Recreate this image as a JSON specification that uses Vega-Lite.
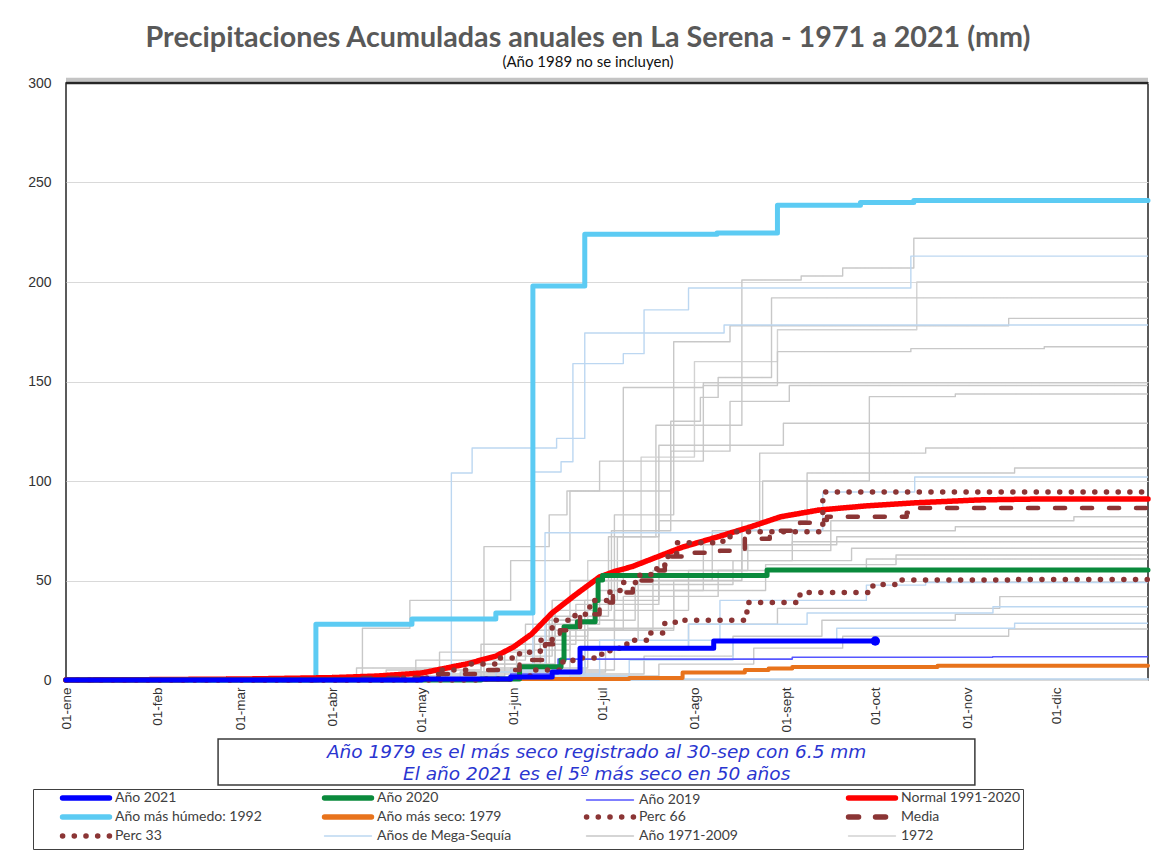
{
  "$schema": "https://vega.github.io/schema/vega-lite/v6.json",
  "width": 1082,
  "height": 597,
  "autosize": "none",
  "padding": {"left": 66, "top": 83, "right": 20, "bottom": 170},
  "background": "white",
  "title": {
    "text": "Precipitaciones Acumuladas anuales en La Serena - 1971 a 2021 (mm)",
    "subtitle": "(Año 1989 no se incluyen)",
    "font": "Lato",
    "fontSize": 28.7,
    "fontWeight": "bold",
    "color": "#595959",
    "subtitleFont": "Lato",
    "subtitleFontSize": 15,
    "subtitleColor": "#111111",
    "subtitlePadding": 2,
    "anchor": "middle",
    "dx": -19,
    "offset": 6
  },
  "datasets": {
    "lineas": [
      {"serie": "Año 2021", "linea": "2021", "dia": 0, "mm": 0},
      {"serie": "Año 2021", "linea": "2021", "dia": 120, "mm": 0.5},
      {"serie": "Año 2021", "linea": "2021", "dia": 150, "mm": 1.5},
      {"serie": "Año 2021", "linea": "2021", "dia": 164, "mm": 4},
      {"serie": "Año 2021", "linea": "2021", "dia": 173.4, "mm": 16},
      {"serie": "Año 2021", "linea": "2021", "dia": 218.5, "mm": 19.6},
      {"serie": "Año 2021", "linea": "2021", "dia": 273, "mm": 19.6},

      {"serie": "Año 2020", "linea": "2020", "dia": 0, "mm": 0},
      {"serie": "Año 2020", "linea": "2020", "dia": 140, "mm": 0.5},
      {"serie": "Año 2020", "linea": "2020", "dia": 153, "mm": 6.7},
      {"serie": "Año 2020", "linea": "2020", "dia": 167, "mm": 10},
      {"serie": "Año 2020", "linea": "2020", "dia": 168, "mm": 26.8},
      {"serie": "Año 2020", "linea": "2020", "dia": 172.5, "mm": 29.3},
      {"serie": "Año 2020", "linea": "2020", "dia": 178.5, "mm": 40},
      {"serie": "Año 2020", "linea": "2020", "dia": 179.5, "mm": 50.2},
      {"serie": "Año 2020", "linea": "2020", "dia": 181, "mm": 52.5},
      {"serie": "Año 2020", "linea": "2020", "dia": 236.5, "mm": 55.3},
      {"serie": "Año 2020", "linea": "2020", "dia": 365, "mm": 55.3},

      {"serie": "Año 2019", "linea": "2019", "dia": 0, "mm": 0},
      {"serie": "Año 2019", "linea": "2019", "dia": 140, "mm": 1},
      {"serie": "Año 2019", "linea": "2019", "dia": 150, "mm": 3},
      {"serie": "Año 2019", "linea": "2019", "dia": 166, "mm": 10.5},
      {"serie": "Año 2019", "linea": "2019", "dia": 245, "mm": 11.4},
      {"serie": "Año 2019", "linea": "2019", "dia": 312.6, "mm": 11.7},
      {"serie": "Año 2019", "linea": "2019", "dia": 365, "mm": 11.7},

      {"serie": "Normal 1991-2020", "linea": "normal", "dia": 0, "mm": 0},
      {"serie": "Normal 1991-2020", "linea": "normal", "dia": 30, "mm": 0.2},
      {"serie": "Normal 1991-2020", "linea": "normal", "dia": 60, "mm": 0.5},
      {"serie": "Normal 1991-2020", "linea": "normal", "dia": 90, "mm": 1.2},
      {"serie": "Normal 1991-2020", "linea": "normal", "dia": 105, "mm": 2},
      {"serie": "Normal 1991-2020", "linea": "normal", "dia": 120, "mm": 3.5},
      {"serie": "Normal 1991-2020", "linea": "normal", "dia": 135, "mm": 8},
      {"serie": "Normal 1991-2020", "linea": "normal", "dia": 145, "mm": 12},
      {"serie": "Normal 1991-2020", "linea": "normal", "dia": 151, "mm": 16.6},
      {"serie": "Normal 1991-2020", "linea": "normal", "dia": 157, "mm": 23},
      {"serie": "Normal 1991-2020", "linea": "normal", "dia": 164, "mm": 33.7},
      {"serie": "Normal 1991-2020", "linea": "normal", "dia": 172, "mm": 43},
      {"serie": "Normal 1991-2020", "linea": "normal", "dia": 180, "mm": 51.8},
      {"serie": "Normal 1991-2020", "linea": "normal", "dia": 185, "mm": 54.5},
      {"serie": "Normal 1991-2020", "linea": "normal", "dia": 191, "mm": 57},
      {"serie": "Normal 1991-2020", "linea": "normal", "dia": 208, "mm": 66.8},
      {"serie": "Normal 1991-2020", "linea": "normal", "dia": 220, "mm": 72},
      {"serie": "Normal 1991-2020", "linea": "normal", "dia": 231, "mm": 77},
      {"serie": "Normal 1991-2020", "linea": "normal", "dia": 241, "mm": 82},
      {"serie": "Normal 1991-2020", "linea": "normal", "dia": 254, "mm": 85.4},
      {"serie": "Normal 1991-2020", "linea": "normal", "dia": 270, "mm": 87.5},
      {"serie": "Normal 1991-2020", "linea": "normal", "dia": 286, "mm": 89},
      {"serie": "Normal 1991-2020", "linea": "normal", "dia": 308, "mm": 90.5},
      {"serie": "Normal 1991-2020", "linea": "normal", "dia": 330, "mm": 91},
      {"serie": "Normal 1991-2020", "linea": "normal", "dia": 365, "mm": 91},

      {"serie": "Año más húmedo:  1992", "linea": "1992", "dia": 0, "mm": 0},
      {"serie": "Año más húmedo:  1992", "linea": "1992", "dia": 84.3, "mm": 28},
      {"serie": "Año más húmedo:  1992", "linea": "1992", "dia": 116.7, "mm": 30.6},
      {"serie": "Año más húmedo:  1992", "linea": "1992", "dia": 145, "mm": 33.7},
      {"serie": "Año más húmedo:  1992", "linea": "1992", "dia": 157.5, "mm": 198},
      {"serie": "Año más húmedo:  1992", "linea": "1992", "dia": 175, "mm": 224},
      {"serie": "Año más húmedo:  1992", "linea": "1992", "dia": 219.6, "mm": 224.6},
      {"serie": "Año más húmedo:  1992", "linea": "1992", "dia": 240, "mm": 238.6},
      {"serie": "Año más húmedo:  1992", "linea": "1992", "dia": 268, "mm": 240},
      {"serie": "Año más húmedo:  1992", "linea": "1992", "dia": 286, "mm": 241},
      {"serie": "Año más húmedo:  1992", "linea": "1992", "dia": 365, "mm": 241},

      {"serie": "Año más seco: 1979", "linea": "1979", "dia": 0, "mm": 0},
      {"serie": "Año más seco: 1979", "linea": "1979", "dia": 150, "mm": 0.5},
      {"serie": "Año más seco: 1979", "linea": "1979", "dia": 190, "mm": 1},
      {"serie": "Año más seco: 1979", "linea": "1979", "dia": 208, "mm": 3.8},
      {"serie": "Año más seco: 1979", "linea": "1979", "dia": 229, "mm": 5},
      {"serie": "Año más seco: 1979", "linea": "1979", "dia": 237, "mm": 5.8},
      {"serie": "Año más seco: 1979", "linea": "1979", "dia": 245, "mm": 6.5},
      {"serie": "Año más seco: 1979", "linea": "1979", "dia": 294, "mm": 7.2},
      {"serie": "Año más seco: 1979", "linea": "1979", "dia": 365, "mm": 7.2},

      {"serie": "Perc 66", "linea": "p66", "dia": 0, "mm": 0},
      {"serie": "Perc 66", "linea": "p66", "dia": 110, "mm": 1},
      {"serie": "Perc 66", "linea": "p66", "dia": 126, "mm": 5},
      {"serie": "Perc 66", "linea": "p66", "dia": 136, "mm": 8},
      {"serie": "Perc 66", "linea": "p66", "dia": 146, "mm": 11},
      {"serie": "Perc 66", "linea": "p66", "dia": 153, "mm": 14},
      {"serie": "Perc 66", "linea": "p66", "dia": 160, "mm": 20},
      {"serie": "Perc 66", "linea": "p66", "dia": 164, "mm": 30},
      {"serie": "Perc 66", "linea": "p66", "dia": 171.7, "mm": 33},
      {"serie": "Perc 66", "linea": "p66", "dia": 176.7, "mm": 40},
      {"serie": "Perc 66", "linea": "p66", "dia": 183.5, "mm": 45},
      {"serie": "Perc 66", "linea": "p66", "dia": 188, "mm": 49},
      {"serie": "Perc 66", "linea": "p66", "dia": 193.6, "mm": 53},
      {"serie": "Perc 66", "linea": "p66", "dia": 199.3, "mm": 57},
      {"serie": "Perc 66", "linea": "p66", "dia": 202, "mm": 62},
      {"serie": "Perc 66", "linea": "p66", "dia": 206, "mm": 69},
      {"serie": "Perc 66", "linea": "p66", "dia": 221.6, "mm": 70},
      {"serie": "Perc 66", "linea": "p66", "dia": 224, "mm": 74.5},
      {"serie": "Perc 66", "linea": "p66", "dia": 255.3, "mm": 94.5},
      {"serie": "Perc 66", "linea": "p66", "dia": 365, "mm": 95},

      {"serie": "Media", "linea": "media", "dia": 0, "mm": 0},
      {"serie": "Media", "linea": "media", "dia": 100, "mm": 1},
      {"serie": "Media", "linea": "media", "dia": 125, "mm": 3},
      {"serie": "Media", "linea": "media", "dia": 139.6, "mm": 5},
      {"serie": "Media", "linea": "media", "dia": 153, "mm": 10},
      {"serie": "Media", "linea": "media", "dia": 161.6, "mm": 18},
      {"serie": "Media", "linea": "media", "dia": 166.6, "mm": 25},
      {"serie": "Media", "linea": "media", "dia": 173.4, "mm": 33},
      {"serie": "Media", "linea": "media", "dia": 180, "mm": 39},
      {"serie": "Media", "linea": "media", "dia": 184.5, "mm": 44},
      {"serie": "Media", "linea": "media", "dia": 191.2, "mm": 50},
      {"serie": "Media", "linea": "media", "dia": 199.3, "mm": 55},
      {"serie": "Media", "linea": "media", "dia": 202, "mm": 62},
      {"serie": "Media", "linea": "media", "dia": 210.5, "mm": 64},
      {"serie": "Media", "linea": "media", "dia": 220.6, "mm": 65},
      {"serie": "Media", "linea": "media", "dia": 229, "mm": 71},
      {"serie": "Media", "linea": "media", "dia": 237.4, "mm": 75},
      {"serie": "Media", "linea": "media", "dia": 247.6, "mm": 79},
      {"serie": "Media", "linea": "media", "dia": 253.3, "mm": 80.4},
      {"serie": "Media", "linea": "media", "dia": 256.7, "mm": 82},
      {"serie": "Media", "linea": "media", "dia": 283.6, "mm": 84},
      {"serie": "Media", "linea": "media", "dia": 287, "mm": 86.4},
      {"serie": "Media", "linea": "media", "dia": 365, "mm": 86.4},

      {"serie": "Perc 33", "linea": "p33", "dia": 0, "mm": 0},
      {"serie": "Perc 33", "linea": "p33", "dia": 140, "mm": 0.5},
      {"serie": "Perc 33", "linea": "p33", "dia": 153, "mm": 2},
      {"serie": "Perc 33", "linea": "p33", "dia": 158, "mm": 5},
      {"serie": "Perc 33", "linea": "p33", "dia": 166.6, "mm": 9},
      {"serie": "Perc 33", "linea": "p33", "dia": 171, "mm": 11},
      {"serie": "Perc 33", "linea": "p33", "dia": 178.4, "mm": 13},
      {"serie": "Perc 33", "linea": "p33", "dia": 183.5, "mm": 16},
      {"serie": "Perc 33", "linea": "p33", "dia": 189.2, "mm": 20},
      {"serie": "Perc 33", "linea": "p33", "dia": 197, "mm": 23.6},
      {"serie": "Perc 33", "linea": "p33", "dia": 202, "mm": 29},
      {"serie": "Perc 33", "linea": "p33", "dia": 208.8, "mm": 30},
      {"serie": "Perc 33", "linea": "p33", "dia": 229.7, "mm": 39},
      {"serie": "Perc 33", "linea": "p33", "dia": 247.6, "mm": 44},
      {"serie": "Perc 33", "linea": "p33", "dia": 272.2, "mm": 48},
      {"serie": "Perc 33", "linea": "p33", "dia": 281.3, "mm": 50.2},
      {"serie": "Perc 33", "linea": "p33", "dia": 320, "mm": 50.5},
      {"serie": "Perc 33", "linea": "p33", "dia": 365, "mm": 50.5},

      {"serie": "Años de Mega-Sequía", "linea": "m1", "dia": 0, "mm": 0},
      {"serie": "Años de Mega-Sequía", "linea": "m1", "dia": 150, "mm": 3},
      {"serie": "Años de Mega-Sequía", "linea": "m1", "dia": 157.5, "mm": 104.5},
      {"serie": "Años de Mega-Sequía", "linea": "m1", "dia": 167, "mm": 109.7},
      {"serie": "Años de Mega-Sequía", "linea": "m1", "dia": 171, "mm": 159},
      {"serie": "Años de Mega-Sequía", "linea": "m1", "dia": 188, "mm": 164},
      {"serie": "Años de Mega-Sequía", "linea": "m1", "dia": 195, "mm": 186},
      {"serie": "Años de Mega-Sequía", "linea": "m1", "dia": 210, "mm": 197},
      {"serie": "Años de Mega-Sequía", "linea": "m1", "dia": 285, "mm": 213},
      {"serie": "Años de Mega-Sequía", "linea": "m1", "dia": 365, "mm": 213},
      {"serie": "Años de Mega-Sequía", "linea": "m2", "dia": 0, "mm": 0},
      {"serie": "Años de Mega-Sequía", "linea": "m2", "dia": 130, "mm": 104},
      {"serie": "Años de Mega-Sequía", "linea": "m2", "dia": 137, "mm": 116.6},
      {"serie": "Años de Mega-Sequía", "linea": "m2", "dia": 165.5, "mm": 121.4},
      {"serie": "Años de Mega-Sequía", "linea": "m2", "dia": 175, "mm": 174.4},
      {"serie": "Años de Mega-Sequía", "linea": "m2", "dia": 222, "mm": 178.4},
      {"serie": "Años de Mega-Sequía", "linea": "m2", "dia": 365, "mm": 178.4},
      {"serie": "Años de Mega-Sequía", "linea": "m3", "dia": 0, "mm": 0},
      {"serie": "Años de Mega-Sequía", "linea": "m3", "dia": 150, "mm": 5},
      {"serie": "Años de Mega-Sequía", "linea": "m3", "dia": 161.6, "mm": 74},
      {"serie": "Años de Mega-Sequía", "linea": "m3", "dia": 228, "mm": 75.4},
      {"serie": "Años de Mega-Sequía", "linea": "m3", "dia": 255.3, "mm": 94.5},
      {"serie": "Años de Mega-Sequía", "linea": "m3", "dia": 286.3, "mm": 102},
      {"serie": "Años de Mega-Sequía", "linea": "m3", "dia": 365, "mm": 102},
      {"serie": "Años de Mega-Sequía", "linea": "m4", "dia": 0, "mm": 0},
      {"serie": "Años de Mega-Sequía", "linea": "m4", "dia": 160, "mm": 3},
      {"serie": "Años de Mega-Sequía", "linea": "m4", "dia": 180, "mm": 20},
      {"serie": "Años de Mega-Sequía", "linea": "m4", "dia": 220.6, "mm": 40},
      {"serie": "Años de Mega-Sequía", "linea": "m4", "dia": 270, "mm": 47.7},
      {"serie": "Años de Mega-Sequía", "linea": "m4", "dia": 290, "mm": 49},
      {"serie": "Años de Mega-Sequía", "linea": "m4", "dia": 365, "mm": 49},
      {"serie": "Años de Mega-Sequía", "linea": "m5", "dia": 0, "mm": 0},
      {"serie": "Años de Mega-Sequía", "linea": "m5", "dia": 145, "mm": 4},
      {"serie": "Años de Mega-Sequía", "linea": "m5", "dia": 175, "mm": 15},
      {"serie": "Años de Mega-Sequía", "linea": "m5", "dia": 210, "mm": 28},
      {"serie": "Años de Mega-Sequía", "linea": "m5", "dia": 250, "mm": 33.7},
      {"serie": "Años de Mega-Sequía", "linea": "m5", "dia": 312.7, "mm": 36.8},
      {"serie": "Años de Mega-Sequía", "linea": "m5", "dia": 365, "mm": 36.8},
      {"serie": "Años de Mega-Sequía", "linea": "m6", "dia": 0, "mm": 0},
      {"serie": "Años de Mega-Sequía", "linea": "m6", "dia": 160, "mm": 2},
      {"serie": "Años de Mega-Sequía", "linea": "m6", "dia": 190, "mm": 10},
      {"serie": "Años de Mega-Sequía", "linea": "m6", "dia": 225, "mm": 20},
      {"serie": "Años de Mega-Sequía", "linea": "m6", "dia": 260, "mm": 26},
      {"serie": "Años de Mega-Sequía", "linea": "m6", "dia": 320, "mm": 28.5},
      {"serie": "Años de Mega-Sequía", "linea": "m6", "dia": 365, "mm": 28.5},
      {"serie": "Años de Mega-Sequía", "linea": "m7", "dia": 0, "mm": 0},
      {"serie": "Años de Mega-Sequía", "linea": "m7", "dia": 200, "mm": 0.5},
      {"serie": "Años de Mega-Sequía", "linea": "m7", "dia": 365, "mm": 1},

      {"serie": "Año 1971-2009", "linea": "g01", "dia": 0, "mm": 0},
      {"serie": "Año 1971-2009", "linea": "g01", "dia": 128, "mm": 3},
      {"serie": "Año 1971-2009", "linea": "g01", "dia": 152, "mm": 12},
      {"serie": "Año 1971-2009", "linea": "g01", "dia": 164, "mm": 40},
      {"serie": "Año 1971-2009", "linea": "g01", "dia": 186, "mm": 72},
      {"serie": "Año 1971-2009", "linea": "g01", "dia": 199, "mm": 128},
      {"serie": "Año 1971-2009", "linea": "g01", "dia": 228, "mm": 201},
      {"serie": "Año 1971-2009", "linea": "g01", "dia": 248, "mm": 203},
      {"serie": "Año 1971-2009", "linea": "g01", "dia": 262, "mm": 207},
      {"serie": "Año 1971-2009", "linea": "g01", "dia": 286, "mm": 222},
      {"serie": "Año 1971-2009", "linea": "g01", "dia": 365, "mm": 222},
      {"serie": "1972", "linea": "g02", "dia": 0, "mm": 0},
      {"serie": "1972", "linea": "g02", "dia": 138, "mm": 4},
      {"serie": "1972", "linea": "g02", "dia": 158, "mm": 22},
      {"serie": "1972", "linea": "g02", "dia": 176, "mm": 60},
      {"serie": "1972", "linea": "g02", "dia": 194, "mm": 112},
      {"serie": "1972", "linea": "g02", "dia": 212, "mm": 160},
      {"serie": "1972", "linea": "g02", "dia": 240, "mm": 176},
      {"serie": "1972", "linea": "g02", "dia": 287, "mm": 200},
      {"serie": "1972", "linea": "g02", "dia": 365, "mm": 200},
      {"serie": "Año 1971-2009", "linea": "g03", "dia": 0, "mm": 0},
      {"serie": "Año 1971-2009", "linea": "g03", "dia": 122, "mm": 2},
      {"serie": "Año 1971-2009", "linea": "g03", "dia": 148, "mm": 15},
      {"serie": "Año 1971-2009", "linea": "g03", "dia": 170, "mm": 50},
      {"serie": "Año 1971-2009", "linea": "g03", "dia": 188, "mm": 95},
      {"serie": "Año 1971-2009", "linea": "g03", "dia": 204, "mm": 130},
      {"serie": "Año 1971-2009", "linea": "g03", "dia": 214, "mm": 142},
      {"serie": "Año 1971-2009", "linea": "g03", "dia": 220, "mm": 152},
      {"serie": "Año 1971-2009", "linea": "g03", "dia": 238, "mm": 192},
      {"serie": "Año 1971-2009", "linea": "g03", "dia": 365, "mm": 192},
      {"serie": "Año 1971-2009", "linea": "g04", "dia": 0, "mm": 0},
      {"serie": "Año 1971-2009", "linea": "g04", "dia": 133, "mm": 4},
      {"serie": "Año 1971-2009", "linea": "g04", "dia": 162, "mm": 30},
      {"serie": "Año 1971-2009", "linea": "g04", "dia": 185, "mm": 83},
      {"serie": "Año 1971-2009", "linea": "g04", "dia": 205, "mm": 170},
      {"serie": "Año 1971-2009", "linea": "g04", "dia": 224, "mm": 178},
      {"serie": "Año 1971-2009", "linea": "g04", "dia": 318, "mm": 181.7},
      {"serie": "Año 1971-2009", "linea": "g04", "dia": 365, "mm": 181.7},
      {"serie": "Año 1971-2009", "linea": "g05", "dia": 0, "mm": 0},
      {"serie": "Año 1971-2009", "linea": "g05", "dia": 145, "mm": 5},
      {"serie": "Año 1971-2009", "linea": "g05", "dia": 163, "mm": 32},
      {"serie": "Año 1971-2009", "linea": "g05", "dia": 183, "mm": 72},
      {"serie": "Año 1971-2009", "linea": "g05", "dia": 200, "mm": 110},
      {"serie": "Año 1971-2009", "linea": "g05", "dia": 215, "mm": 148},
      {"serie": "Año 1971-2009", "linea": "g05", "dia": 240, "mm": 165},
      {"serie": "Año 1971-2009", "linea": "g05", "dia": 285, "mm": 166.5},
      {"serie": "Año 1971-2009", "linea": "g05", "dia": 330, "mm": 167.5},
      {"serie": "Año 1971-2009", "linea": "g05", "dia": 365, "mm": 167.5},
      {"serie": "Año 1971-2009", "linea": "g06", "dia": 0, "mm": 0},
      {"serie": "Año 1971-2009", "linea": "g06", "dia": 100, "mm": 26},
      {"serie": "Año 1971-2009", "linea": "g06", "dia": 116, "mm": 40},
      {"serie": "Año 1971-2009", "linea": "g06", "dia": 150, "mm": 60},
      {"serie": "Año 1971-2009", "linea": "g06", "dia": 170, "mm": 95},
      {"serie": "Año 1971-2009", "linea": "g06", "dia": 188, "mm": 147},
      {"serie": "Año 1971-2009", "linea": "g06", "dia": 215, "mm": 149.4},
      {"serie": "Año 1971-2009", "linea": "g06", "dia": 365, "mm": 149.4},
      {"serie": "Año 1971-2009", "linea": "g07", "dia": 0, "mm": 0},
      {"serie": "Año 1971-2009", "linea": "g07", "dia": 140, "mm": 8},
      {"serie": "Año 1971-2009", "linea": "g07", "dia": 165, "mm": 35},
      {"serie": "Año 1971-2009", "linea": "g07", "dia": 184, "mm": 75},
      {"serie": "Año 1971-2009", "linea": "g07", "dia": 204, "mm": 115},
      {"serie": "Año 1971-2009", "linea": "g07", "dia": 224, "mm": 140},
      {"serie": "Año 1971-2009", "linea": "g07", "dia": 244, "mm": 148},
      {"serie": "Año 1971-2009", "linea": "g07", "dia": 365, "mm": 148},
      {"serie": "Año 1971-2009", "linea": "g08", "dia": 0, "mm": 0},
      {"serie": "Año 1971-2009", "linea": "g08", "dia": 150, "mm": 3},
      {"serie": "Año 1971-2009", "linea": "g08", "dia": 175, "mm": 40},
      {"serie": "Año 1971-2009", "linea": "g08", "dia": 200, "mm": 80},
      {"serie": "Año 1971-2009", "linea": "g08", "dia": 235, "mm": 100},
      {"serie": "Año 1971-2009", "linea": "g08", "dia": 271, "mm": 142.4},
      {"serie": "Año 1971-2009", "linea": "g08", "dia": 300, "mm": 143.7},
      {"serie": "Año 1971-2009", "linea": "g08", "dia": 365, "mm": 143.7},
      {"serie": "Año 1971-2009", "linea": "g09", "dia": 0, "mm": 0},
      {"serie": "Año 1971-2009", "linea": "g09", "dia": 141, "mm": 67},
      {"serie": "Año 1971-2009", "linea": "g09", "dia": 163, "mm": 83},
      {"serie": "Año 1971-2009", "linea": "g09", "dia": 169, "mm": 95},
      {"serie": "Año 1971-2009", "linea": "g09", "dia": 180, "mm": 110},
      {"serie": "Año 1971-2009", "linea": "g09", "dia": 200, "mm": 118},
      {"serie": "Año 1971-2009", "linea": "g09", "dia": 242, "mm": 129},
      {"serie": "Año 1971-2009", "linea": "g09", "dia": 365, "mm": 129},
      {"serie": "Año 1971-2009", "linea": "g10", "dia": 0, "mm": 0},
      {"serie": "Año 1971-2009", "linea": "g10", "dia": 145, "mm": 6},
      {"serie": "Año 1971-2009", "linea": "g10", "dia": 160, "mm": 20},
      {"serie": "Año 1971-2009", "linea": "g10", "dia": 193, "mm": 50},
      {"serie": "Año 1971-2009", "linea": "g10", "dia": 218, "mm": 75},
      {"serie": "Año 1971-2009", "linea": "g10", "dia": 234, "mm": 114},
      {"serie": "Año 1971-2009", "linea": "g10", "dia": 290, "mm": 116.6},
      {"serie": "Año 1971-2009", "linea": "g10", "dia": 365, "mm": 116.6},
      {"serie": "Año 1971-2009", "linea": "g11", "dia": 0, "mm": 0},
      {"serie": "Año 1971-2009", "linea": "g11", "dia": 137, "mm": 4},
      {"serie": "Año 1971-2009", "linea": "g11", "dia": 170, "mm": 25},
      {"serie": "Año 1971-2009", "linea": "g11", "dia": 198, "mm": 55},
      {"serie": "Año 1971-2009", "linea": "g11", "dia": 228, "mm": 80},
      {"serie": "Año 1971-2009", "linea": "g11", "dia": 250, "mm": 104},
      {"serie": "Año 1971-2009", "linea": "g11", "dia": 320, "mm": 106.5},
      {"serie": "Año 1971-2009", "linea": "g11", "dia": 365, "mm": 106.5},
      {"serie": "Año 1971-2009", "linea": "g12", "dia": 0, "mm": 0},
      {"serie": "Año 1971-2009", "linea": "g12", "dia": 150, "mm": 3},
      {"serie": "Año 1971-2009", "linea": "g12", "dia": 175, "mm": 25},
      {"serie": "Año 1971-2009", "linea": "g12", "dia": 205, "mm": 50},
      {"serie": "Año 1971-2009", "linea": "g12", "dia": 228, "mm": 65},
      {"serie": "Año 1971-2009", "linea": "g12", "dia": 258, "mm": 80},
      {"serie": "Año 1971-2009", "linea": "g12", "dia": 340, "mm": 82},
      {"serie": "Año 1971-2009", "linea": "g12", "dia": 365, "mm": 82},
      {"serie": "Año 1971-2009", "linea": "g13", "dia": 0, "mm": 0},
      {"serie": "Año 1971-2009", "linea": "g13", "dia": 118, "mm": 10},
      {"serie": "Año 1971-2009", "linea": "g13", "dia": 155, "mm": 28},
      {"serie": "Año 1971-2009", "linea": "g13", "dia": 180, "mm": 45},
      {"serie": "Año 1971-2009", "linea": "g13", "dia": 215, "mm": 68},
      {"serie": "Año 1971-2009", "linea": "g13", "dia": 245, "mm": 75},
      {"serie": "Año 1971-2009", "linea": "g13", "dia": 300, "mm": 77},
      {"serie": "Año 1971-2009", "linea": "g13", "dia": 365, "mm": 77},
      {"serie": "Año 1971-2009", "linea": "g14", "dia": 0, "mm": 0},
      {"serie": "Año 1971-2009", "linea": "g14", "dia": 160, "mm": 5},
      {"serie": "Año 1971-2009", "linea": "g14", "dia": 185, "mm": 35},
      {"serie": "Año 1971-2009", "linea": "g14", "dia": 210, "mm": 55},
      {"serie": "Año 1971-2009", "linea": "g14", "dia": 230, "mm": 68},
      {"serie": "Año 1971-2009", "linea": "g14", "dia": 260, "mm": 72},
      {"serie": "Año 1971-2009", "linea": "g14", "dia": 365, "mm": 72},
      {"serie": "Año 1971-2009", "linea": "g15", "dia": 0, "mm": 0},
      {"serie": "Año 1971-2009", "linea": "g15", "dia": 108, "mm": 5},
      {"serie": "Año 1971-2009", "linea": "g15", "dia": 140, "mm": 18},
      {"serie": "Año 1971-2009", "linea": "g15", "dia": 172, "mm": 38},
      {"serie": "Año 1971-2009", "linea": "g15", "dia": 200, "mm": 60},
      {"serie": "Año 1971-2009", "linea": "g15", "dia": 245, "mm": 69.5},
      {"serie": "Año 1971-2009", "linea": "g15", "dia": 365, "mm": 69.5},
      {"serie": "Año 1971-2009", "linea": "g16", "dia": 0, "mm": 0},
      {"serie": "Año 1971-2009", "linea": "g16", "dia": 130, "mm": 8},
      {"serie": "Año 1971-2009", "linea": "g16", "dia": 165, "mm": 30},
      {"serie": "Año 1971-2009", "linea": "g16", "dia": 192, "mm": 48},
      {"serie": "Año 1971-2009", "linea": "g16", "dia": 225, "mm": 60},
      {"serie": "Año 1971-2009", "linea": "g16", "dia": 265, "mm": 66.2},
      {"serie": "Año 1971-2009", "linea": "g16", "dia": 365, "mm": 66.2},
      {"serie": "Año 1971-2009", "linea": "g17", "dia": 0, "mm": 0},
      {"serie": "Año 1971-2009", "linea": "g17", "dia": 150, "mm": 6},
      {"serie": "Año 1971-2009", "linea": "g17", "dia": 176, "mm": 26},
      {"serie": "Año 1971-2009", "linea": "g17", "dia": 205, "mm": 45},
      {"serie": "Año 1971-2009", "linea": "g17", "dia": 236, "mm": 58},
      {"serie": "Año 1971-2009", "linea": "g17", "dia": 280, "mm": 62.8},
      {"serie": "Año 1971-2009", "linea": "g17", "dia": 365, "mm": 62.8},
      {"serie": "Año 1971-2009", "linea": "g18", "dia": 0, "mm": 0},
      {"serie": "Año 1971-2009", "linea": "g18", "dia": 98, "mm": 6},
      {"serie": "Año 1971-2009", "linea": "g18", "dia": 126, "mm": 14},
      {"serie": "Año 1971-2009", "linea": "g18", "dia": 158, "mm": 25},
      {"serie": "Año 1971-2009", "linea": "g18", "dia": 188, "mm": 42},
      {"serie": "Año 1971-2009", "linea": "g18", "dia": 220, "mm": 55},
      {"serie": "Año 1971-2009", "linea": "g18", "dia": 270, "mm": 60.8},
      {"serie": "Año 1971-2009", "linea": "g18", "dia": 365, "mm": 60.8},
      {"serie": "Año 1971-2009", "linea": "g19", "dia": 0, "mm": 0},
      {"serie": "Año 1971-2009", "linea": "g19", "dia": 155, "mm": 4},
      {"serie": "Año 1971-2009", "linea": "g19", "dia": 182, "mm": 16},
      {"serie": "Año 1971-2009", "linea": "g19", "dia": 210, "mm": 28},
      {"serie": "Año 1971-2009", "linea": "g19", "dia": 240, "mm": 36},
      {"serie": "Año 1971-2009", "linea": "g19", "dia": 315, "mm": 41.9},
      {"serie": "Año 1971-2009", "linea": "g19", "dia": 365, "mm": 41.9},
      {"serie": "Año 1971-2009", "linea": "g20", "dia": 0, "mm": 0},
      {"serie": "Año 1971-2009", "linea": "g20", "dia": 165, "mm": 3},
      {"serie": "Año 1971-2009", "linea": "g20", "dia": 195, "mm": 12},
      {"serie": "Año 1971-2009", "linea": "g20", "dia": 225, "mm": 22},
      {"serie": "Año 1971-2009", "linea": "g20", "dia": 255, "mm": 30},
      {"serie": "Año 1971-2009", "linea": "g20", "dia": 300, "mm": 33},
      {"serie": "Año 1971-2009", "linea": "g20", "dia": 365, "mm": 33},
      {"serie": "Año 1971-2009", "linea": "g21", "dia": 0, "mm": 0},
      {"serie": "Año 1971-2009", "linea": "g21", "dia": 170, "mm": 2},
      {"serie": "Año 1971-2009", "linea": "g21", "dia": 200, "mm": 8},
      {"serie": "Año 1971-2009", "linea": "g21", "dia": 232, "mm": 16},
      {"serie": "Año 1971-2009", "linea": "g21", "dia": 262, "mm": 22},
      {"serie": "Año 1971-2009", "linea": "g21", "dia": 318, "mm": 25.6},
      {"serie": "Año 1971-2009", "linea": "g21", "dia": 365, "mm": 25.6},
      {"serie": "Año 1971-2009", "linea": "g22", "dia": 0, "mm": 0},
      {"serie": "Año 1971-2009", "linea": "g22", "dia": 200, "mm": 0.3},
      {"serie": "Año 1971-2009", "linea": "g22", "dia": 365, "mm": 0.5}
    ]
  },
  "data": {"name": "lineas"},
  "layer": [
    {
      "encoding": {
        "x": {
          "field": "dia", "type": "quantitative",
          "scale": {"domain": [0, 365], "nice": false, "zero": false},
          "axis": {
            "title": null, "grid": false, "ticks": false, "domain": false,
            "values": [0, 31, 59, 90, 120, 151, 181, 212, 243, 273, 304, 334],
            "labelExpr": "'01-' + ['ene','feb','mar','abr','may','jun','jul','ago','sept','oct','nov','dic'][indexof([0,31,59,90,120,151,181,212,243,273,304,334], datum.value)]",
            "labelAngle": -90, "labelFlush": false, "labelPadding": 7,
            "labelFont": "Liberation Sans", "labelFontSize": 13.5, "labelColor": "#333333"
          }
        },
        "y": {
          "field": "mm", "type": "quantitative",
          "scale": {"domain": [0, 300], "nice": false},
          "axis": {
            "title": null, "grid": true, "gridColor": "#d9d9d9", "ticks": false, "domain": false,
            "values": [0, 50, 100, 150, 200, 250, 300],
            "labelPadding": 15, "labelFont": "Liberation Sans", "labelFontSize": 14, "labelColor": "#333333"
          }
        },
        "color": {
          "field": "serie", "type": "nominal",
          "scale": {
            "domain": ["Año 2021", "Año más húmedo:  1992", "Perc 33", "Año 2020", "Año más seco: 1979", "Años de Mega-Sequía", "Año 2019", "Perc 66", "Año 1971-2009", "Normal 1991-2020", "Media", "1972"],
            "range": ["#0000ff", "#5ccbf3", "#8b3535", "#0a8a3c", "#e8731c", "#bcd7f1", "#5656ff", "#8b3535", "#c8c8c8", "#ff0000", "#8b3535", "#d2d2d2"]
          },
          "legend": {
            "title": null, "orient": "none", "legendX": -33, "legendY": 706,
            "columns": 4, "gridAlign": "all", "columnPadding": 31, "rowPadding": -3,
            "symbolType": "stroke", "symbolSize": 2200, "symbolOffset": 44, "labelOffset": 22, "labelLimit": 250,
            "labelFont": "Liberation Sans Narrow, Lato", "labelFontSize": 14, "labelColor": "#404040",
            "padding": 2, "fillColor": "#ffffff", "strokeColor": "#404040",
            "encode": {
              "symbols": {
                "update": {
                  "strokeWidth": {"signal": "indexof(['Año 2019','Años de Mega-Sequía','Año 1971-2009','1972'], datum.value) >= 0 ? 1.5 : 5.5"},
                  "strokeCap": {"value": "round"}
                }
              }
            }
          }
        },
        "strokeDash": {
          "field": "serie", "type": "nominal",
          "scale": {
            "domain": ["Año 2021", "Año más húmedo:  1992", "Perc 33", "Año 2020", "Año más seco: 1979", "Años de Mega-Sequía", "Año 2019", "Perc 66", "Año 1971-2009", "Normal 1991-2020", "Media", "1972"],
            "range": [[1, 0], [1, 0], [0.1, 11.6], [1, 0], [1, 0], [1, 0], [1, 0], [0.1, 11.6], [1, 0], [1, 0], [10, 17], [1, 0]]
          }
        },
        "detail": {"field": "linea", "type": "nominal"}
      },
      "layer": [
        {"transform": [{"filter": {"field": "serie", "oneOf": ["Año 1971-2009", "1972"]}}], "mark": {"type": "line", "interpolate": "step-after", "strokeWidth": 1.4, "strokeJoin": "round"}},
        {"transform": [{"filter": {"field": "serie", "equal": "Años de Mega-Sequía"}}], "mark": {"type": "line", "interpolate": "step-after", "strokeWidth": 1.4, "strokeJoin": "round"}},
        {"transform": [{"filter": {"field": "serie", "equal": "Año más húmedo:  1992"}}], "mark": {"type": "line", "interpolate": "step-after", "strokeWidth": 5, "strokeJoin": "round", "strokeCap": "round"}},
        {"transform": [{"filter": {"field": "serie", "equal": "Año más seco: 1979"}}], "mark": {"type": "line", "interpolate": "step-after", "strokeWidth": 4, "strokeJoin": "round", "strokeCap": "round"}},
        {"transform": [{"filter": {"field": "serie", "equal": "Año 2019"}}], "mark": {"type": "line", "interpolate": "step-after", "strokeWidth": 1.6, "strokeJoin": "round"}},
        {"transform": [{"filter": {"field": "serie", "equal": "Normal 1991-2020"}}], "mark": {"type": "line", "interpolate": "linear", "strokeWidth": 5.5, "strokeJoin": "round", "strokeCap": "round"}},
        {"transform": [{"filter": {"field": "serie", "equal": "Año 2020"}}], "mark": {"type": "line", "interpolate": "step-after", "strokeWidth": 5, "strokeJoin": "round", "strokeCap": "round"}},
        {"transform": [{"filter": {"field": "serie", "equal": "Media"}}], "mark": {"type": "line", "interpolate": "step-after", "strokeWidth": 4.5, "strokeJoin": "round", "strokeCap": "round"}},
        {"transform": [{"filter": {"field": "serie", "oneOf": ["Perc 66", "Perc 33"]}}], "mark": {"type": "line", "interpolate": "step-after", "strokeWidth": 5.5, "strokeJoin": "round", "strokeCap": "round"}},
        {"transform": [{"filter": {"field": "serie", "equal": "Año 2021"}}], "mark": {"type": "line", "interpolate": "step-after", "strokeWidth": 5, "strokeJoin": "round", "strokeCap": "round"}}
      ]
    },
    {
      "transform": [{"filter": "datum.serie == 'Año 2021' && datum.dia == 273"}],
      "mark": {"type": "point", "filled": true, "size": 90, "color": "#0000ff", "opacity": 1},
      "encoding": {
        "x": {"field": "dia", "type": "quantitative"},
        "y": {"field": "mm", "type": "quantitative"}
      }
    },
    {
      "data": {"values": [{}]},
      "mark": {"type": "rule", "color": "#c4c4c4", "strokeWidth": 4},
      "encoding": {"y": {"datum": 301.6}}
    },
    {
      "data": {"values": [{}]},
      "mark": {"type": "rule", "color": "#262626", "strokeWidth": 2.5},
      "encoding": {"y": {"datum": 300}}
    },
    {
      "data": {"values": [{}]},
      "mark": {"type": "rect", "fill": "#ffffff", "stroke": "#3a3a3a", "strokeWidth": 1.5},
      "encoding": {
        "x": {"datum": 51.3}, "x2": {"datum": 306.6},
        "y": {"datum": -29.6}, "y2": {"datum": -52.8}
      }
    },
    {
      "data": {"values": [{}]},
      "mark": {
        "type": "text",
        "text": ["Año 1979 es el más seco registrado al 30-sep con 6.5 mm", "El año 2021 es el 5º más seco en 50 años"],
        "font": "DejaVu Sans", "fontStyle": "italic", "fontSize": 18.5, "color": "#2a35d0",
        "lineHeight": 22, "baseline": "middle", "align": "center"
      },
      "encoding": {"x": {"datum": 179}, "y": {"datum": -36.2}}
    }
  ],
  "config": {
    "view": {"stroke": "#262626", "strokeWidth": 1.5},
    "font": "Liberation Sans"
  }
}
